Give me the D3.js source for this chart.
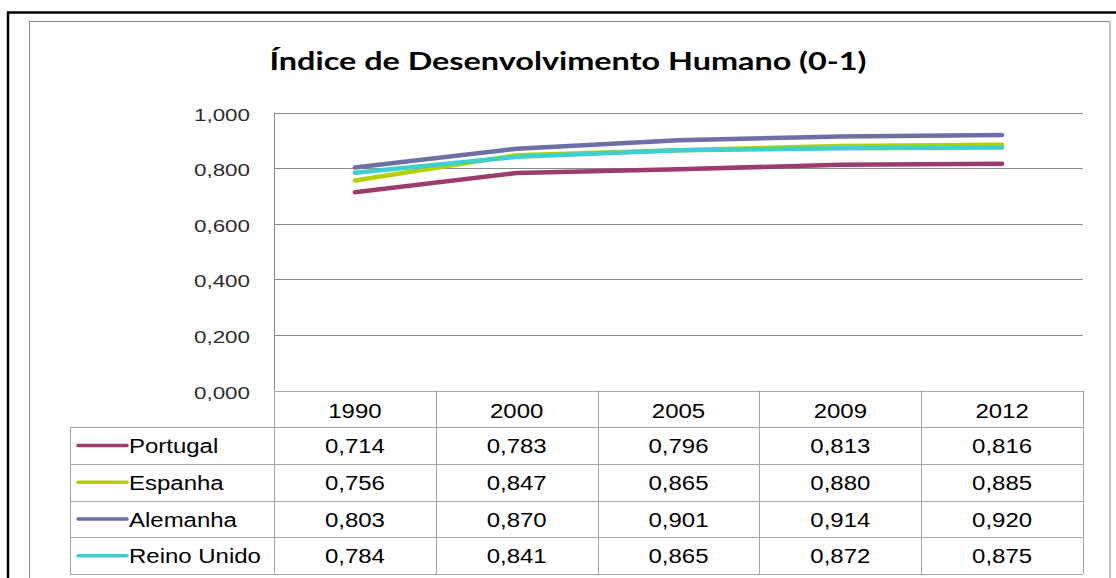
<!DOCTYPE html>
<html>
<head>
<meta charset="utf-8">
<script src="https://cdn.jsdelivr.net/npm/d3@7"></script>
<style>
  body { margin: 0; background: #fff; }
  svg { display: block; }
</style>
</head>
<body>
<div id="chart"></div>
<script>
// data
const years = ["1990", "2000", "2005", "2009", "2012"];
const countries = ["Portugal", "Espanha", "Alemanha", "Reino Unido"];
const portugal = [0.714, 0.783, 0.796, 0.813, 0.816];
const espanha = [0.756, 0.847, 0.865, 0.880, 0.885];
const alemanha = [0.803, 0.870, 0.901, 0.914, 0.920];
const reinoUnido = [0.784, 0.841, 0.865, 0.872, 0.875];
const yTicks = [0, 0.2, 0.4, 0.6, 0.8, 1.0];
const colors = ["#9e3b6e", "#b4d000", "#6f6fa6", "#3ecfd0"];

const seriesValues = [portugal, espanha, alemanha, reinoUnido];

const W = 1116, H = 578;
const margin = { left: 274, right: 1083, top: 112.7, bottom: 390.5 };
const rowH = 36.7;
const legendX = 70;
const sx = 1.25; // the picture is stretched sideways

const svg = d3.select("#chart").append("svg")
  .attr("width", W).attr("height", H);

// frames
svg.append("rect").attr("x", 29.5).attr("y", 21.5)
  .attr("width", 1110 - 29.5).attr("height", H)
  .attr("fill", "none").attr("stroke", "#8c8c8c").attr("stroke-width", 1);
svg.append("line").attr("x1", 7).attr("x2", W).attr("y1", 12.5).attr("y2", 12.5)
  .attr("stroke", "#000").attr("stroke-width", 2.5);
svg.append("line").attr("x1", 8).attr("x2", 8).attr("y1", 12).attr("y2", H)
  .attr("stroke", "#000").attr("stroke-width", 2.5);

// stretched text helper
function stext(x, y, str, opts) {
  const t = svg.append("text")
    .attr("transform", `translate(${x},${y}) scale(${opts.sx || sx},1)`)
    .attr("text-anchor", opts.anchor || "start")
    .attr("font-family", opts.family || "'Liberation Sans', Arial, sans-serif")
    .attr("font-size", opts.size)
    .attr("font-weight", opts.weight || "normal")
    .attr("fill", opts.fill || "#000")
    .text(str);
  return t;
}

// title
stext(568, 70, "Índice de Desenvolvimento Humano (0-1)",
  { anchor: "middle", size: 25.5, weight: "bold", family: "Lato, 'Open Sans', sans-serif", sx: 1.27 });

// scales
const x = d3.scaleBand().domain(years).range([margin.left, margin.right]);
const y = d3.scaleLinear().domain([0, 1]).range([margin.bottom, margin.top]);

// gridlines
svg.append("g").selectAll("line").data(yTicks.filter(d => d > 0)).join("line")
  .attr("x1", margin.left).attr("x2", margin.right)
  .attr("y1", d => Math.round(y(d)) + 0.5).attr("y2", d => Math.round(y(d)) + 0.5)
  .attr("stroke", "#8a8a8a").attr("stroke-width", 1);

// y labels
const fmt = d => d3.format(".3f")(d).replace(".", ",");
yTicks.forEach(t => {
  stext(250, y(t) + 8, fmt(t), { anchor: "end", size: 16, sx: 1.4, fill: "#2b2b2b" });
});

// value axis line
svg.append("line").attr("x1", margin.left + 0.5).attr("x2", margin.left + 0.5)
  .attr("y1", margin.top).attr("y2", margin.bottom)
  .attr("stroke", "#8a8a8a");

// lines
const line = d3.line()
  .x((d, i) => x(years[i]) + x.bandwidth() / 2)
  .y(d => y(d));
seriesValues.forEach((vals, k) => {
  svg.append("path").datum(vals)
    .attr("d", line)
    .attr("fill", "none")
    .attr("stroke", colors[k])
    .attr("stroke-width", 4.5)
    .attr("stroke-linecap", "round")
    .attr("stroke-linejoin", "round");
});

// data table
const tableTop = margin.bottom;
const tableBottom = tableTop + rowH * (countries.length + 1);
const gridColor = "#a6a6a6";
const tbl = svg.append("g").attr("stroke", gridColor).attr("stroke-width", 1);
// horizontal lines
for (let r = 0; r <= countries.length + 1; r++) {
  const yy = Math.round(tableTop + r * rowH) + 0.5;
  tbl.append("line")
    .attr("x1", r === 0 ? margin.left : legendX).attr("x2", margin.right)
    .attr("y1", yy).attr("y2", yy);
}
// vertical lines
years.forEach((yr, i) => {
  const xx = Math.round(x(yr)) + 0.5;
  tbl.append("line").attr("x1", xx).attr("x2", xx)
    .attr("y1", tableTop).attr("y2", tableBottom);
});
tbl.append("line").attr("x1", margin.right + 0.5).attr("x2", margin.right + 0.5)
  .attr("y1", tableTop).attr("y2", tableBottom);
tbl.append("line").attr("x1", legendX + 0.5).attr("x2", legendX + 0.5)
  .attr("y1", tableTop + rowH).attr("y2", tableBottom);

// header
years.forEach(yr => {
  stext(x(yr) + x.bandwidth() / 2, tableTop + 27, yr, { anchor: "middle", size: 19.5, sx: 1.23 });
});
// rows
countries.forEach((c, k) => {
  const rowTop = tableTop + rowH * (k + 1);
  svg.append("line")
    .attr("x1", 78).attr("x2", 127)
    .attr("y1", rowTop + rowH / 2).attr("y2", rowTop + rowH / 2)
    .attr("stroke", colors[k]).attr("stroke-width", 3.5)
    .attr("stroke-linecap", "round");
  stext(129, rowTop + 26, c, { size: 19.5, sx: 1.23 });
  seriesValues[k].forEach((v, i) => {
    stext(x(years[i]) + x.bandwidth() / 2, rowTop + 26, fmt(v), { anchor: "middle", size: 19.5, sx: 1.23 });
  });
});
</script>
</body>
</html>
